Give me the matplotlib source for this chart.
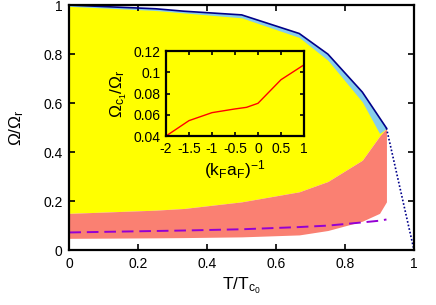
import matplotlib
matplotlib.use("Agg")
import matplotlib.pyplot as plt

# temperatura reducida T/Tc0
t = [0.0, 0.25, 0.333, 0.5, 0.667, 0.75, 0.85, 0.90, 0.92]
# borde superior (linea azul oscuro)
borde_sup = [1.0, 0.985, 0.975, 0.96, 0.884, 0.80, 0.645, 0.54, 0.498]
# borde inferior de la banda azul claro
azul_inf = [0.995, 0.978, 0.968, 0.948, 0.868, 0.775, 0.605, 0.476, 0.497]
# region salmon
salmon_sup = [0.15, 0.163, 0.17, 0.197, 0.238, 0.28, 0.367, 0.465, 0.497]
salmon_inf = [0.048, 0.050, 0.051, 0.054, 0.062, 0.08, 0.118, 0.15, 0.197]
# linea discontinua
disc = [0.072, 0.078, 0.080, 0.085, 0.094, 0.100, 0.113, 0.120, 0.125]
# tramo punteado final
t_punt = [0.92, 1.0]
om_punt = [0.498, 0.0]

# recuadro
inv_kfa = [-2, -1.5, -1, -0.5, -0.25, 0, 0.5, 1]
omega_c1 = [0.040, 0.0545, 0.062, 0.0655, 0.067, 0.0708, 0.093, 0.107]

plt.rcParams["font.family"] = ["Liberation Sans", "DejaVu Sans"]
plt.rcParams["mathtext.default"] = "regular"
plt.rcParams["axes.unicode_minus"] = False

fig = plt.figure(figsize=(4.36, 3.05), dpi=100)
ax = fig.add_axes([0.159, 0.180, 0.7906, 0.8033])

ax.fill_between(t, salmon_sup, borde_sup, color="#ffff00", lw=0)
ax.fill_between(t, azul_inf, borde_sup, color="#87ceeb", lw=0)
ax.fill_between(t, salmon_inf, salmon_sup, color="#fa8072", lw=0)
ax.plot(t, borde_sup, color="#00008b", lw=1.2)
ax.plot(t_punt, om_punt, color="#00008b", lw=1.2, ls=(0, (1, 1.2)))
ax.plot(t, disc, color="#9400d3", lw=1.4, ls=(0, (6, 3)))

ax.set_xlim(0, 1)
ax.set_ylim(0, 1)
ax.set_xticks([0, 0.2, 0.4, 0.6, 0.8, 1])
ax.set_xticklabels(["0", "0.2", "0.4", "0.6", "0.8", "1"])
ax.set_yticks([0, 0.2, 0.4, 0.6, 0.8, 1])
ax.set_yticklabels(["0", "0.2", "0.4", "0.6", "0.8", "1"])
ax.tick_params(direction="in", top=True, right=True, length=4, width=1.2,
               labelsize=10, pad=5)
for s in ax.spines.values():
    s.set_linewidth(1.6)
ax.set_xlabel("T/T$_{c_0}$", fontsize=12.5)
ax.set_ylabel("Ω/Ω$_r$", fontsize=12.5)
ax.xaxis.set_label_coords(0.5, -0.105)
ax.yaxis.set_label_coords(-0.125, 0.5)

ins = fig.add_axes([0.3807, 0.554, 0.3165, 0.2787])
ins.set_facecolor("none")
ins.plot(inv_kfa, omega_c1, color="#ff0000", lw=1.0)
ins.set_xlim(-2, 1)
ins.set_ylim(0.04, 0.12)
ins.set_xticks([-2, -1.5, -1, -0.5, 0, 0.5, 1])
ins.set_xticklabels(["-2", "-1.5", "-1", "-0.5", "0", "0.5", "1"])
ins.set_yticks([0.04, 0.06, 0.08, 0.1, 0.12])
ins.set_yticklabels(["0.04", "0.06", "0.08", "0.1", "0.12"])
ins.tick_params(direction="in", top=True, right=True, length=3, width=1.2,
                labelsize=10, pad=4)
for s in ins.spines.values():
    s.set_linewidth(1.6)
ins.set_xlabel("(k$_F$a$_F$)$^{-1}$", fontsize=12.5, labelpad=2)
ins.set_ylabel("Ω$_{c_1}$/Ω$_r$", fontsize=12.5, labelpad=3)

fig.savefig("out.png", dpi=100)
